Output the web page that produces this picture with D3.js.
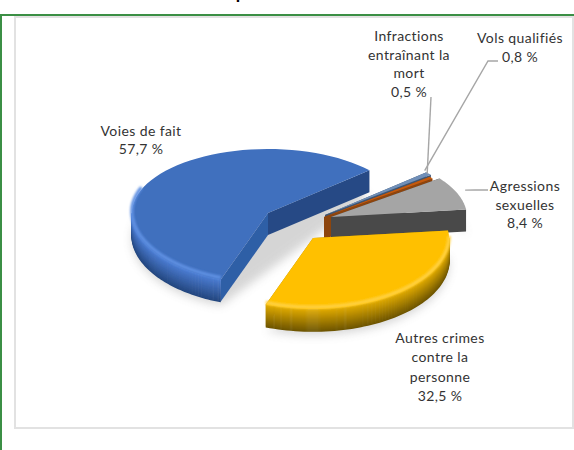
<!DOCTYPE html>
<html><head><meta charset="utf-8">
<script src="https://cdn.jsdelivr.net/npm/d3@7"></script>
<style>html,body{margin:0;padding:0;background:#fff;overflow:hidden}svg{display:block}text{font-family:Lato,"Open Sans",sans-serif;font-size:14px;letter-spacing:.4px;font-variant-ligatures:none;fill:#333;text-anchor:middle}</style>
</head><body><svg id="c" width="574" height="450"></svg>
<script>
const categories = ["Voies de fait","Vols qualifiés","Infractions entraînant la mort","Agressions sexuelles","Autres crimes contre la personne"];
const values = [57.7,0.8,0.5,8.4,32.5];
const valueLabels = ["57,7 %","0,8 %","0,5 %","8,4 %","32,5 %"];
const labelLines = [["Voies de fait"],["Vols qualifiés"],["Infractions","entraînant la","mort"],["Agressions","sexuelles"],["Autres crimes","contre la","personne"]];
const topColors = ["#3f6fbe","#6f8fb8","#c55a11","#a5a5a5","#ffc000"];
const rimColors = ["#5f90e2","#7f9cc4","#d9722c","#bcbcbc","#ffd040"];
const wallColors = [["#4b7cd2","#24477f"],["#4a5f80","#3a4a60"],["#a24c10","#7a3a0c"],["#555555","#3c3c3c"],["#e0aa00","#6e5500"]];
const cutColors = [["#264a85","#2f5ea6"],["#3f5470","#3f5470"],["#8d4410","#8d4410"],["#484848","#484848"],["#a88000","#a88000"]];
const centers = [[268,213],[325,215],[324,217],[331,217],[313,238]];
const labelPos = [[141,136],[520,43],[409,41],[525,191],[440,343]];
const lineH = [18,19,18.5,18.5,19.3];
const rx=136, ryBack=64, ryFront=71, depth=22;
const svg=d3.select("#c");
const defs=svg.append("defs");
defs.append("filter").attr("id","sh").attr("x","-20%").attr("y","-20%").attr("width","140%").attr("height","140%")
  .append("feGaussianBlur").attr("stdDeviation",5);
defs.append("filter").attr("id","soft").attr("x","-5%").attr("y","-5%").attr("width","110%").attr("height","110%")
  .append("feGaussianBlur").attr("stdDeviation",0.7);
defs.append("filter").attr("id","rim").attr("x","-10%").attr("y","-10%").attr("width","120%").attr("height","120%")
  .append("feGaussianBlur").attr("stdDeviation",1.3);

// frame
svg.append("rect").attr("x",15).attr("y",17).attr("width",558).attr("height",411).attr("fill","#fff").attr("stroke","#e2e2e2").attr("stroke-width",2);
svg.append("path").attr("d",d3.line()([[1,450],[1,15],[574,15]])).attr("fill","none").attr("stroke","#3b8f45").attr("stroke-width",2);
svg.append("text").attr("x",241).attr("y",-1).style("font-weight","700").style("font-size","18px").style("fill","#000").text("p");

const TAU=2*Math.PI;
const pie=d3.pie().sort(null).value(d=>d).startAngle(200.3*Math.PI/180).endAngle(200.3*Math.PI/180+TAU);
// angles of slices past 12 o'clock are brought back into the 0..2pi turn
const arcs=pie(values).map(a=>{const k=a.startAngle>=TAU?TAU:0;return {startAngle:a.startAngle-k,endAngle:a.endAngle-k};});
const line=d3.line();
// the near half of the pie is drawn slightly larger, as in a perspective view
const pt=(i,t,dy=0)=>{const c=Math.cos(t);return [centers[i][0]+rx*Math.sin(t),centers[i][1]-(c>0?ryBack:ryFront)*c+dy];};
const rimPts=(i,a,b,dy=0)=>d3.range(0,61).map(k=>pt(i,a+(b-a)*k/60,dy));
const topPts=(i,a)=>[[centers[i][0],centers[i][1]],...rimPts(i,a.startAngle,a.endAngle)];

const shadow=svg.append("g").attr("filter","url(#sh)").attr("opacity",0.3);
arcs.forEach((a,i)=>{ if(values[i]>5) shadow.append("path").attr("d",line(rimPts(i,a.startAngle,a.endAngle,depth+4))+"Z").attr("fill","#777");});

const g=svg.append("g").attr("filter","url(#soft)");
const drawOrder=[1,2,3,0,4];
drawOrder.forEach(i=>{
  const a=arcs[i], c=[centers[i][0],centers[i][1]];
  const quad=(t,col)=>{const r=pt(i,t);g.append("path").attr("d",line([c,r,[r[0],r[1]+depth],[c[0],c[1]+depth]])+"Z").attr("fill",col);};
  quad(a.startAngle,cutColors[i][1]);
  quad(a.endAngle,cutColors[i][0]);
  // curved wall, visible only on the front half of the ellipse
  const u=Math.max(a.startAngle,Math.PI/2), v=Math.min(a.endAngle,1.5*Math.PI);
  if(v>u){
    const col=d3.scaleLinear().domain([0,depth]).range(wallColors[i]).interpolate(d3.interpolateRgb);
    d3.range(depth,-1,-1).forEach(d=>{
      g.append("path").attr("d",line(rimPts(i,u,v,d))).attr("fill","none").attr("stroke",col(d)).attr("stroke-width",1.6);
    });
  }
  g.append("path").attr("d",line(topPts(i,a))+"Z").attr("fill",topColors[i]);
  const ru=Math.max(a.startAngle,Math.PI/2), rv=Math.min(a.endAngle,1.62*Math.PI);
  if(values[i]>5 && rv>ru){
    g.append("path").attr("d",line(rimPts(i,ru,rv,-2))).attr("fill","none").attr("stroke",rimColors[i]).attr("stroke-width",3.5).attr("filter","url(#rim)");
  }
});

// leader lines: anchored on the slices' rims
const mid=a=>(a.startAngle+a.endAngle)/2;
const leaders=[
  {i:1,pts:[[498,61],[488,61]],off:[-4,-3]},
  {i:2,pts:[[431,97]],off:[-4,-4]},
  {i:3,pts:[[488,190],[475,190]],off:[8,-3]}
];
leaders.forEach(l=>{
  const r=pt(l.i,mid(arcs[l.i]));
  svg.append("path").attr("d",line([...l.pts,[r[0]+l.off[0],r[1]+l.off[1]]])).attr("fill","none").attr("stroke","#a6a6a6").attr("stroke-width",1.4);
});

// labels
categories.forEach((c,i)=>{
  const t=svg.append("text").attr("aria-label",c);
  [...labelLines[i],valueLabels[i]].forEach((s,k)=>{
    t.append("tspan").attr("x",labelPos[i][0]).attr("y",labelPos[i][1]+k*lineH[i]).text(s);
  });
});
</script></body></html>
